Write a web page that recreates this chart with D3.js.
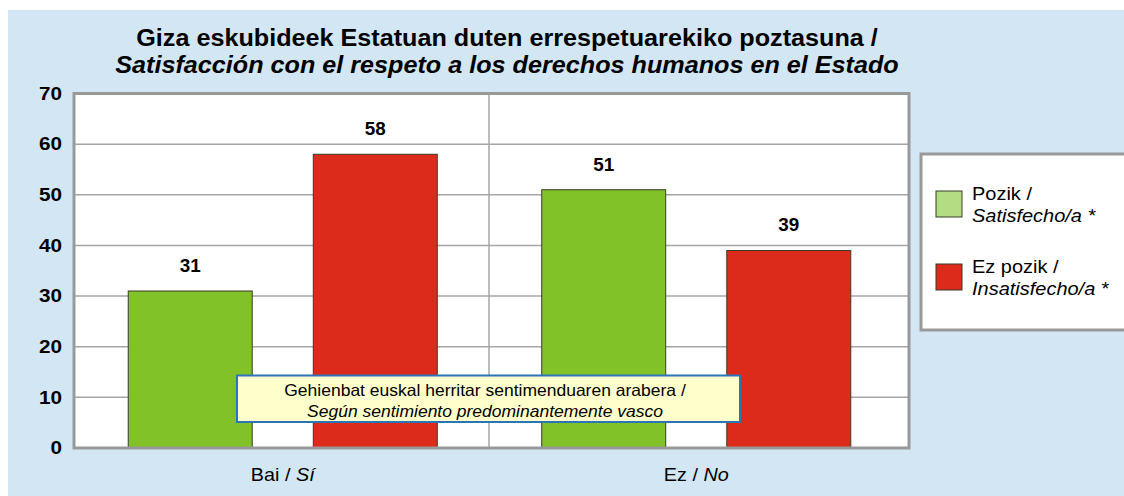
<!DOCTYPE html>
<html>
<head>
<meta charset="utf-8">
<script src="https://cdn.jsdelivr.net/npm/d3@7/dist/d3.min.js"></script>
<style>
  html, body { margin: 0; padding: 0; background: #ffffff; }
  svg { display: block; font-family: "Liberation Sans", Arial, sans-serif; }
</style>
</head>
<body>
<svg id="chart" width="1124" height="496"></svg>
<script>
// Categories (x axis), shown as "Basque / Spanish" with the Spanish part in italics
const categories = ["Bai", "Ez"];
const categoryLabelsEu = ["Bai / ", "Ez / "];
const categoryLabelsEs = ["Sí", "No"];

// Series
const seriesKeys = ["pozik", "ezPozik"];
const seriesLabelsEu = ["Pozik /", "Ez pozik /"];
const seriesLabelsEs = ["Satisfecho/a *", "Insatisfecho/a *"];
const seriesColors = ["#80c228", "#dc2b1b"];
const legendColors = ["#b3dd82", "#dc2b1b"];

// Values per series, in category order
const pozikValues = [31, 51];
const ezPozikValues = [58, 39];

// Y axis ticks
const yTicks = [0, 10, 20, 30, 40, 50, 60, 70];

const rows = categories.map((c, i) => ({
  category: c,
  pozik: pozikValues[i],
  ezPozik: ezPozikValues[i]
}));

// Text in this chart uses a slightly widened face
const place = (sel, x, y, sx) =>
  sel.attr("transform", `translate(${x},${y}) scale(${sx},1)`);

const svg = d3.select("#chart");

// Background panel
svg.append("rect")
  .attr("x", 8).attr("y", 10)
  .attr("width", 1124 - 8).attr("height", 496 - 10)
  .attr("fill", "#d2e6f4");

const plot = { left: 74, right: 909, top: 93.5, bottom: 448 };

const x0 = d3.scaleBand()
  .domain(categories)
  .range([plot.left, plot.right])
  .paddingInner(0).paddingOuter(0);

const x1 = d3.scaleBand()
  .domain(seriesKeys)
  .range([0, x0.bandwidth()])
  .paddingInner(0.33)
  .paddingOuter(0.293);

const y = d3.scaleLinear()
  .domain([0, 70])
  .range([plot.bottom, plot.top]);

const color = d3.scaleOrdinal().domain(seriesKeys).range(seriesColors);

// Plot area
svg.append("rect")
  .attr("x", plot.left).attr("y", plot.top)
  .attr("width", plot.right - plot.left)
  .attr("height", plot.bottom - plot.top)
  .attr("fill", "#ffffff");

// Horizontal gridlines
svg.append("g")
  .selectAll("line")
  .data(yTicks.filter(t => t > 0 && t < 70))
  .join("line")
  .attr("x1", plot.left).attr("x2", plot.right)
  .attr("y1", d => y(d)).attr("y2", d => y(d))
  .attr("stroke", "#a6a6a6")
  .attr("stroke-width", 1.5);

// Vertical separator between categories
svg.append("g")
  .selectAll("line")
  .data(categories.slice(1))
  .join("line")
  .attr("x1", d => x0(d) - 2.5).attr("x2", d => x0(d) - 2.5)
  .attr("y1", plot.top).attr("y2", plot.bottom)
  .attr("stroke", "#a6a6a6")
  .attr("stroke-width", 1.5);

// Bars
const shift = c => (c === "Ez" ? -4 : 0);
const groups = svg.append("g")
  .selectAll("g")
  .data(rows)
  .join("g")
  .attr("transform", d => `translate(${x0(d.category) + shift(d.category)},0)`);

groups.selectAll("rect")
  .data(d => seriesKeys.map(k => ({ key: k, value: d[k] })))
  .join("rect")
  .attr("x", d => x1(d.key))
  .attr("y", d => y(d.value))
  .attr("width", x1.bandwidth())
  .attr("height", d => y(0) - y(d.value))
  .attr("fill", d => color(d.key))
  .attr("stroke", "#3a3a2a")
  .attr("stroke-width", 1);

// Value labels
groups.selectAll("text")
  .data(d => seriesKeys.map(k => ({ key: k, value: d[k] })))
  .join("text")
  .each(function (d) {
    place(d3.select(this), x1(d.key) + x1.bandwidth() / 2, y(d.value) - 19, 1.08);
  })
  .attr("text-anchor", "middle")
  .attr("font-size", 17.5)
  .attr("font-weight", "bold")
  .attr("fill", "#000")
  .text(d => d.value);

// Plot frame
svg.append("rect")
  .attr("x", plot.left).attr("y", plot.top)
  .attr("width", plot.right - plot.left)
  .attr("height", plot.bottom - plot.top)
  .attr("fill", "none")
  .attr("stroke", "#999999")
  .attr("stroke-width", 3);

// Y axis
const yAxis = svg.append("g")
  .attr("transform", `translate(${plot.left},0)`)
  .call(d3.axisLeft(y).tickValues(yTicks).tickSize(0).tickPadding(12));
yAxis.select(".domain").remove();
yAxis.selectAll("text")
  .attr("x", null)
  .attr("transform", "translate(-12,0) scale(1.15,1)")
  .attr("font-family", "Liberation Sans, Arial, sans-serif")
  .attr("font-size", 18)
  .attr("font-weight", "bold")
  .attr("fill", "#000");

// X axis labels
svg.append("g")
  .selectAll("text")
  .data(categories)
  .join("text")
  .each(function (d, i) {
    const t = d3.select(this);
    place(t, x0(d) + x0.bandwidth() / 2 + shift(d), 481, 1.1);
    t.append("tspan").text(categoryLabelsEu[i]);
    t.append("tspan").attr("font-style", "italic").text(categoryLabelsEs[i]);
  })
  .attr("text-anchor", "middle")
  .attr("font-size", 18)
  .attr("fill", "#000");

// Title
place(svg.append("text"), 507, 46, 1.095)
  .attr("text-anchor", "middle")
  .attr("font-size", 23)
  .attr("font-weight", "bold")
  .attr("fill", "#000")
  .text("Giza eskubideek Estatuan duten errespetuarekiko poztasuna /");
place(svg.append("text"), 507, 73, 1.095)
  .attr("text-anchor", "middle")
  .attr("font-size", 23)
  .attr("font-weight", "bold")
  .attr("font-style", "italic")
  .attr("fill", "#000")
  .text("Satisfacción con el respeto a los derechos humanos en el Estado");

// Legend
const legend = svg.append("g");
legend.append("rect")
  .attr("x", 921).attr("y", 154)
  .attr("width", 1126 - 921).attr("height", 330 - 154)
  .attr("fill", "#ffffff")
  .attr("stroke", "#999999")
  .attr("stroke-width", 3);

const legendItems = legend.selectAll("g")
  .data(seriesKeys)
  .join("g")
  .attr("transform", (d, i) => `translate(936,${191 + i * 73})`);
legendItems.append("rect")
  .attr("width", 26).attr("height", 26)
  .attr("fill", (d, i) => legendColors[i])
  .attr("stroke", "#3a3a2a")
  .attr("stroke-width", 1);
legendItems.append("text")
  .each(function () { place(d3.select(this), 36, 9, 1.08); })
  .attr("font-size", 18.5)
  .attr("fill", "#000")
  .text((d, i) => seriesLabelsEu[i]);
legendItems.append("text")
  .each(function () { place(d3.select(this), 36, 31, 1.08); })
  .attr("font-size", 18.5)
  .attr("font-style", "italic")
  .attr("fill", "#000")
  .text((d, i) => seriesLabelsEs[i]);

// Annotation box
const note = svg.append("g");
note.append("rect")
  .attr("x", 237).attr("y", 375.5)
  .attr("width", 503).attr("height", 46.5)
  .attr("fill", "#ffffcc")
  .attr("stroke", "#2a74b8")
  .attr("stroke-width", 2);
place(note.append("text"), 485, 396, 1.06)
  .attr("text-anchor", "middle")
  .attr("font-size", 16.5)
  .attr("fill", "#000")
  .text("Gehienbat euskal herritar sentimenduaren arabera /");
place(note.append("text"), 485, 416.5, 1.06)
  .attr("text-anchor", "middle")
  .attr("font-size", 16.5)
  .attr("font-style", "italic")
  .attr("fill", "#000")
  .text("Según sentimiento predominantemente vasco");
</script>
</body>
</html>
